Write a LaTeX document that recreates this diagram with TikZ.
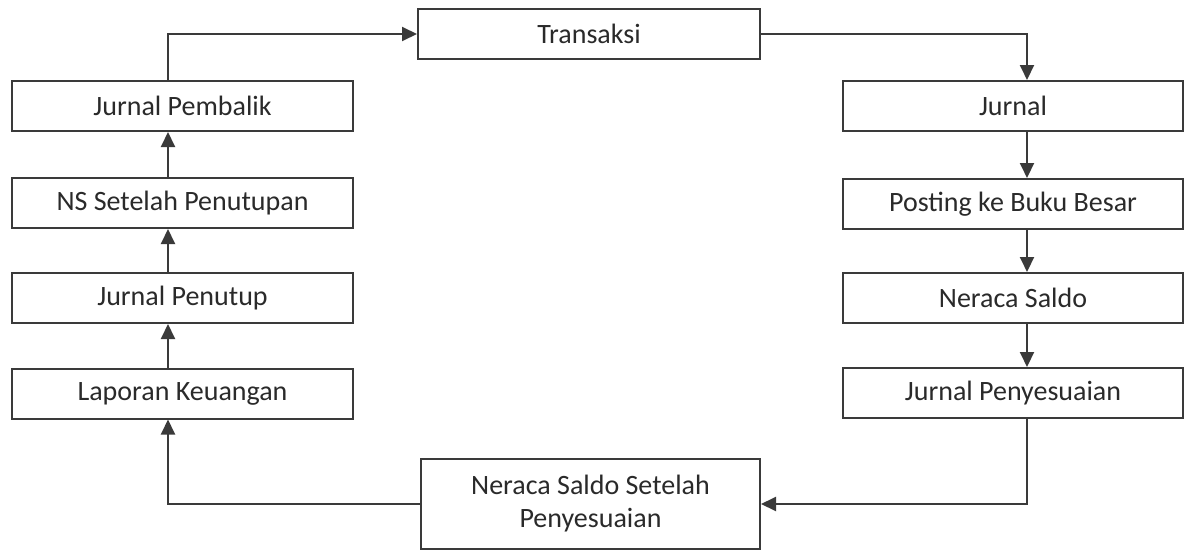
\documentclass[tikz,border=0pt]{standalone}
\usepackage{fontspec}
\setmainfont{Carlito}
\usetikzlibrary{arrows.meta}
\definecolor{linec}{HTML}{3A3A3A}
\definecolor{textc}{HTML}{2A2A2A}
\tikzset{
  box/.style={draw=linec, line width=2pt, fill=white, minimum height=50pt, inner sep=0pt, text=textc, font=\fontsize{28}{33}\selectfont, align=center},
  conn/.style={draw=linec, line width=2pt, -{Triangle[length=15pt,width=14pt]}}
}
\begin{document}
\begin{tikzpicture}[x=1pt,y=-1pt]
\useasboundingbox (0,0) rectangle (1185,551);
\coordinate (lx) at (168,0);
\coordinate (rx) at (1027,0);
\node[box, minimum width=342pt] (trans) at (589,34) {Transaksi};
\node[box, minimum width=341pt] (jp) at (182.5,106) {Jurnal Pembalik};
\node[box, minimum width=341pt] (nsp) at (182.5,203) {NS Setelah Penutupan};
\node[box, minimum width=341pt] (jpen) at (182.5,298) {Jurnal Penutup};
\node[box, minimum width=341pt] (lk) at (182.5,393.5) {Laporan Keuangan};
\node[box, minimum width=340pt] (jur) at (1013,106) {Jurnal};
\node[box, minimum width=340pt] (post) at (1013,204) {Posting ke Buku Besar};
\node[box, minimum width=340pt] (ns) at (1013,298) {Neraca Saldo};
\node[box, minimum width=340pt] (jpy) at (1013,393) {Jurnal Penyesuaian};
\node[box, minimum width=339pt, minimum height=90pt] (nssp) at (590.5,504) {Neraca Saldo Setelah\\Penyesuaian};
\draw[conn] (jp.north -| lx) |- (trans.west);
\draw[conn] (nsp.north -| lx) -- (jp.south -| lx);
\draw[conn] (jpen.north -| lx) -- (nsp.south -| lx);
\draw[conn] (lk.north -| lx) -- (jpen.south -| lx);
\draw[conn] (nssp.west) -| (lk.south -| lx);
\draw[conn] (trans.east) -| (jur.north -| rx);
\draw[conn] (jur.south -| rx) -- (post.north -| rx);
\draw[conn] (post.south -| rx) -- (ns.north -| rx);
\draw[conn] (ns.south -| rx) -- (jpy.north -| rx);
\draw[conn] (jpy.south -| rx) |- (nssp.east);
\end{tikzpicture}
\end{document}
